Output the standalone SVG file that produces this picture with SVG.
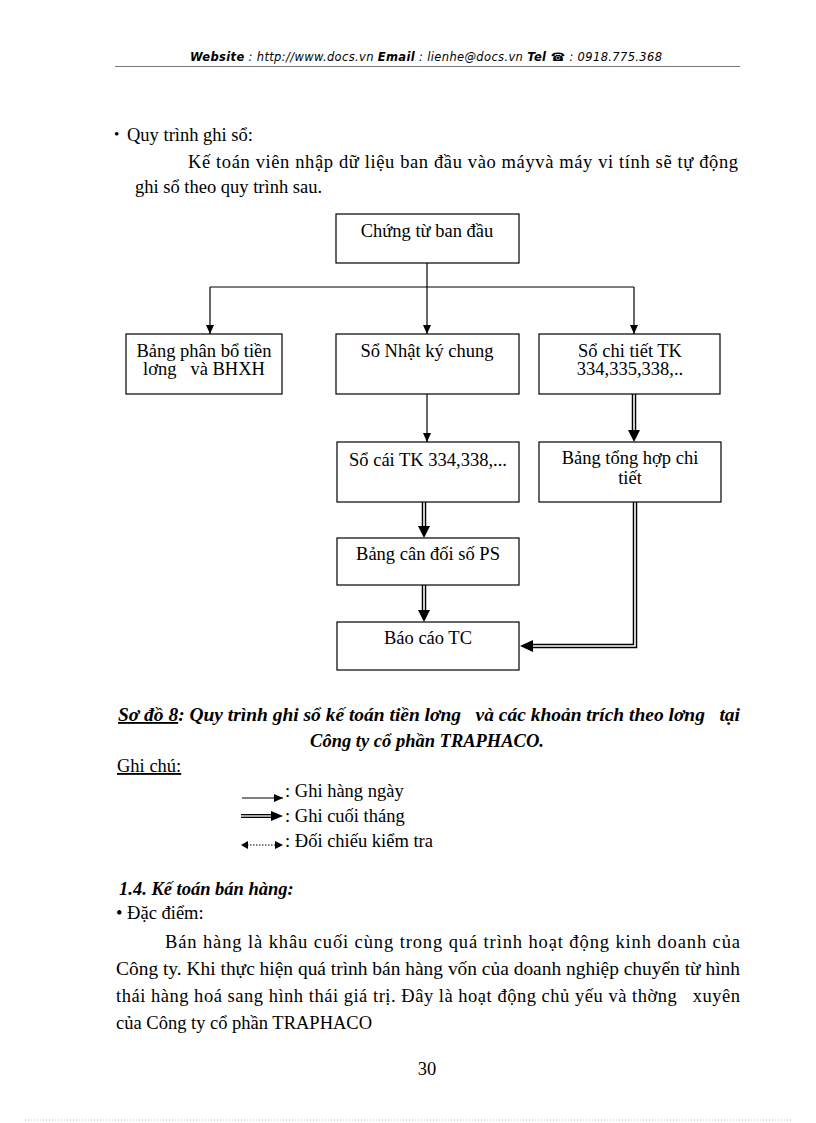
<svg xmlns="http://www.w3.org/2000/svg" width="816" height="1123" viewBox="0 0 816 1123">
<defs>
<style>
text{font-family:"Liberation Serif","Times New Roman",serif;font-size:18.5px;fill:#000}
.hd{font-family:"DejaVu Sans","Liberation Sans",sans-serif;font-size:11.5px;font-style:italic}
.b{font-weight:bold}
.bi{font-weight:bold;font-style:italic}
.c{text-anchor:middle}
.box{fill:#fff;stroke:#000;stroke-width:1.2}
.thin{fill:none;stroke:#000;stroke-width:1.2}
.dblo{fill:none;stroke:#000;stroke-width:4.5}
.dbli{fill:none;stroke:#fff;stroke-width:1.6}
</style>
<marker id="ah" markerWidth="10" markerHeight="10" refX="9" refY="5" orient="auto" markerUnits="userSpaceOnUse">
<path d="M0,1 L9,5 L0,9 Z" fill="#000"/>
</marker>
</defs>
<rect width="816" height="1123" fill="#fff"/>

<!-- header -->
<text class="hd" x="190" y="61" textLength="472" lengthAdjust="spacing"><tspan class="b">Website</tspan> : http://www.docs.vn  <tspan class="b">Email</tspan>  : lienhe@docs.vn   <tspan class="b">Tel ☎</tspan> : 0918.775.368</text>
<line x1="115" y1="66.5" x2="740" y2="66.5" stroke="#777" stroke-width="1"/>

<!-- intro text -->
<text x="114" y="139" style="font-size:15px">•</text>
<text x="127" y="141">Quy trình ghi sổ:</text>
<text x="188" y="168" textLength="550" lengthAdjust="spacing">Kế toán viên nhập dữ liệu ban đầu vào máyvà máy vi tính sẽ tự động</text>
<text x="135" y="193">ghi sổ theo quy trình sau.</text>

<!-- connectors -->
<g id="connectors">
<polyline class="thin" points="427,263 427,287"/>
<polyline class="thin" points="210,287 634,287"/>
<line class="thin" x1="210" y1="287" x2="210" y2="334" marker-end="url(#ah)"/>
<line class="thin" x1="427" y1="287" x2="427" y2="334" marker-end="url(#ah)"/>
<line class="thin" x1="634" y1="287" x2="634" y2="334" marker-end="url(#ah)"/>
<line class="thin" x1="427" y1="394" x2="427" y2="442" marker-end="url(#ah)"/>

<g>
<line class="dblo" x1="634" y1="394" x2="634" y2="432"/>
<line class="dbli" x1="634" y1="394" x2="634" y2="432"/>
<path d="M628,430 L640,430 L634,442 Z" fill="#000"/>
</g>
<g>
<line class="dblo" x1="424" y1="502" x2="424" y2="528"/>
<line class="dbli" x1="424" y1="502" x2="424" y2="528"/>
<path d="M418,526 L430,526 L424,538 Z" fill="#000"/>
</g>
<g>
<line class="dblo" x1="424" y1="585" x2="424" y2="612"/>
<line class="dbli" x1="424" y1="585" x2="424" y2="612"/>
<path d="M418,610 L430,610 L424,622 Z" fill="#000"/>
</g>
<g>
<polyline class="dblo" points="635,502 635,646 531,646"/>
<polyline class="dbli" points="635,502 635,646 531,646"/>
<path d="M533,640 L533,652 L520,646 Z" fill="#000"/>
</g>
</g>

<!-- nodes -->
<g id="n-chungtu">
<rect class="box" x="336" y="214" width="183" height="49"/>
<text class="c" x="427" y="237">Chứng từ ban đầu</text>
</g>
<g id="n-bangphanbo">
<rect class="box" x="126" y="334" width="156" height="60"/>
<text class="c" x="204" y="357">Bảng phân bổ tiền</text>
<text class="c" x="204" y="375" xml:space="preserve">lơng   và BHXH</text>
</g>
<g id="n-nhatky">
<rect class="box" x="336" y="334" width="183" height="60"/>
<text class="c" x="427" y="357">Sổ Nhật ký chung</text>
</g>
<g id="n-sochitiet">
<rect class="box" x="539" y="334" width="181" height="60"/>
<text class="c" x="630" y="357">Sổ chi tiết TK</text>
<text class="c" x="630" y="375">334,335,338,..</text>
</g>
<g id="n-socai">
<rect class="box" x="337" y="442" width="182" height="60"/>
<text class="c" x="428" y="466">Sổ cái TK 334,338,...</text>
</g>
<g id="n-bangtonghop">
<rect class="box" x="539" y="442" width="182" height="60"/>
<text class="c" x="630" y="464">Bảng tổng hợp chi</text>
<text class="c" x="630" y="484">tiết</text>
</g>
<g id="n-candoi">
<rect class="box" x="337" y="538" width="182" height="47"/>
<text class="c" x="428" y="560">Bảng cân đối số PS</text>
</g>
<g id="n-baocao">
<rect class="box" x="337" y="622" width="182" height="48"/>
<text class="c" x="428" y="644">Báo cáo TC</text>
</g>

<!-- caption -->
<text class="bi" x="118" y="721" textLength="622" lengthAdjust="spacingAndGlyphs" xml:space="preserve"><tspan text-decoration="underline">Sơ đồ 8</tspan>: Quy trình ghi sổ kế toán tiền lơng   và các khoản trích theo lơng   tại</text>
<text class="bi c" x="427" y="747">Công ty cổ phần TRAPHACO.</text>
<text x="117" y="772" text-decoration="underline">Ghi chú:</text>

<!-- legend -->
<g id="legend">
<line class="thin" x1="242" y1="798" x2="283" y2="798" marker-end="url(#ah)"/>
<text x="285" y="797">: Ghi hàng ngày</text>
<line class="dblo" x1="241" y1="816" x2="273" y2="816" style="stroke-width:4"/>
<line class="dbli" x1="241" y1="816" x2="273" y2="816" style="stroke-width:1.3"/>
<path d="M271,811 L283,816 L271,821 Z" fill="#000"/>
<text x="285" y="822">: Ghi cuối tháng</text>
<line x1="247" y1="845" x2="276" y2="845" stroke="#000" stroke-width="1" stroke-dasharray="1.5,1.5"/>
<path d="M248,841 L241,845 L248,849 Z" fill="#000"/>
<path d="M275,841 L283,845 L275,849 Z" fill="#000"/>
<text x="285" y="847">: Đối chiếu kiểm tra</text>
</g>

<!-- section text -->
<text class="bi" x="119" y="895">1.4. Kế toán bán hàng:</text>
<text x="116" y="919">• Đặc điểm:</text>
<text x="165" y="948" textLength="575" lengthAdjust="spacing">Bán hàng là khâu cuối cùng trong quá trình hoạt động kinh doanh của</text>
<text x="116" y="975" textLength="624" lengthAdjust="spacingAndGlyphs">Công ty. Khi thực hiện quá trình bán hàng vốn của doanh nghiệp chuyển từ hình</text>
<text x="116" y="1002" textLength="624" lengthAdjust="spacing" xml:space="preserve">thái hàng hoá sang hình thái giá trị. Đây là hoạt động chủ yếu và thờng   xuyên</text>
<text x="116" y="1029">của Công ty cổ phần TRAPHACO</text>

<text class="c" x="427" y="1075">30</text>
<line x1="25" y1="1120" x2="792" y2="1120" stroke="#bbb" stroke-width="1" stroke-dasharray="1,2"/>
</svg>
